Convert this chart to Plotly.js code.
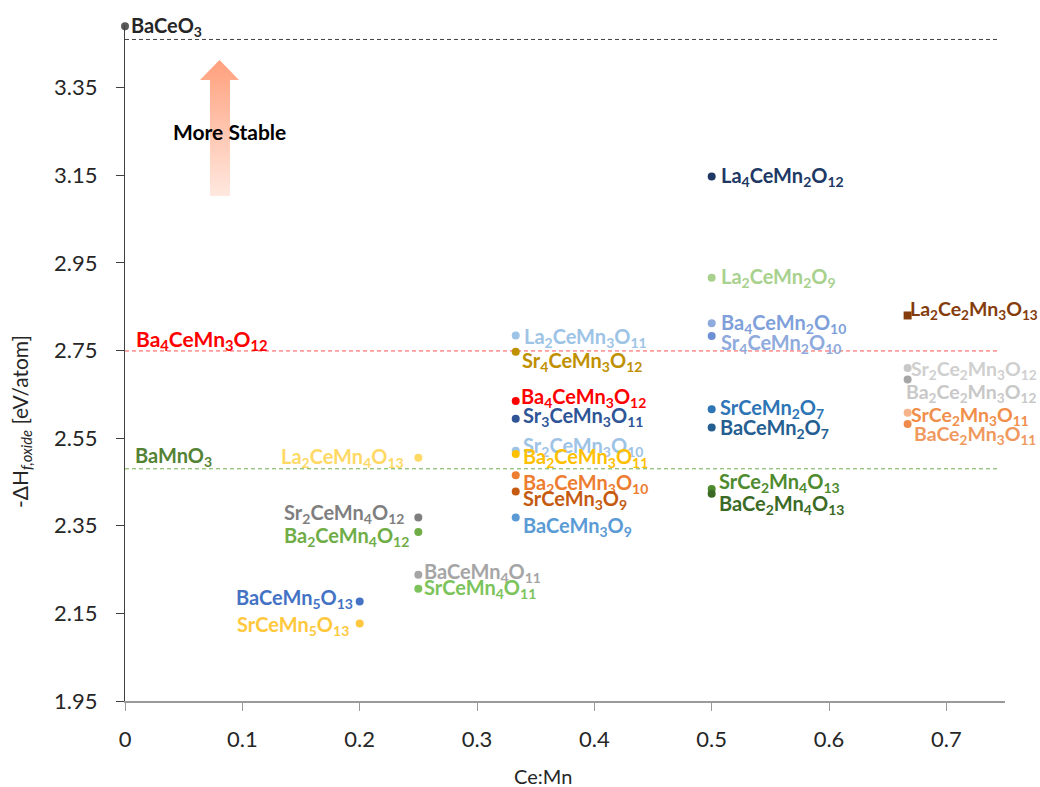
<!DOCTYPE html>
<html>
<head>
<meta charset="utf-8">
<script src="https://cdn.plot.ly/plotly-3.0.1.min.js"></script>
<style>html,body{margin:0;padding:0;background:#fff;}#chart{width:1040px;height:787px;}</style>
</head>
<body>
<div id="chart"></div>
<script>
// ---- data ----
const compounds = ['BaCeO3','La2CeMn4O13','Sr2CeMn4O12','Ba2CeMn4O12','BaCeMn4O11','SrCeMn4O11',
  'BaCeMn5O13','SrCeMn5O13','La2CeMn3O11','Sr4CeMn3O12','Ba4CeMn3O12','Sr3CeMn3O11','Sr2CeMn3O10',
  'Ba2CeMn3O11','Ba2CeMn3O10','SrCeMn3O9','BaCeMn3O9','La4CeMn2O12','La2CeMn2O9','Ba4CeMn2O10',
  'Sr4CeMn2O10','SrCeMn2O7','BaCeMn2O7','SrCe2Mn4O13','BaCe2Mn4O13','La2Ce2Mn3O13','Sr2Ce2Mn3O12',
  'Ba2Ce2Mn3O12','SrCe2Mn3O11','BaCe2Mn3O11'];
const ceMn = [0,0.25,0.25,0.25,0.25,0.25,
  0.2,0.2,0.333,0.333,0.333,0.333,0.333,
  0.333,0.333,0.333,0.333,0.5,0.5,0.5,
  0.5,0.5,0.5,0.5,0.5,0.667,0.667,
  0.667,0.667,0.667];
const dHf = [3.49,2.505,2.369,2.336,2.238,2.206,
  2.177,2.127,2.784,2.747,2.635,2.594,2.521,
  2.514,2.465,2.428,2.369,3.147,2.916,2.812,
  2.783,2.616,2.574,2.434,2.423,2.830,2.710,
  2.684,2.608,2.582];
const markerColors = ['#595959','#FFD966','#7F7F7F','#70AD47','#A5A5A5','#7DC35B',
  '#4472C4','#FFC83D','#9DC3E6','#BF9000','#FF0000','#2F5597','#9DC3E6',
  '#FFC000','#ED7D31','#C55A11','#5B9BD5','#203864','#A9D18E','#8FAADC',
  '#6D8FD3','#2E75B6','#255E91','#4E8A2E','#3B6A26','#843C0C','#C8C8C8',
  '#A6A6A6','#F5B48A','#EE8A4A'];
const labelColors = ['#262626','#FFD966','#7F7F7F','#70AD47','#A5A5A5','#7DC35B',
  '#4472C4','#FFC83D','#9DC3E6','#BF9000','#FF0000','#2F5597','#9DC3E6',
  '#FFC000','#ED7D31','#C55A11','#5B9BD5','#203864','#A9D18E','#7F9FDA',
  '#8FAADC','#2E75B6','#255E91','#4E8A2E','#3B6A26','#843C0C','#CFCFCF',
  '#C8C8C8','#F08E4A','#F0995E'];
const markerSymbols = compounds.map(c => c === 'La2Ce2Mn3O13' ? 'square' : 'circle');

// reference (dashed) lines
const refNames = ['BaCeO3','Ba4CeMn3O12','BaMnO3'];
const refValues = [3.46, 2.749, 2.48];
const refColors = ['#404040','#FF5050','#70AD47'];
const refLabelColors = [null,'#FF0000','#548235'];

// tick labels
const xTicks = [0,0.1,0.2,0.3,0.4,0.5,0.6,0.7];
const yTicks = [1.95,2.15,2.35,2.55,2.75,2.95,3.15,3.35];

// ---- label placement (pixels) ----
const labelSide = ['r','l','l','l','r','r','l','l','r','r','r','r','r','r','r','r','r','r','r','r',
  'r','r','r','r','r','r','r','r','r','r'];
const labelDx = [4,-12,-12,-7,4,4,-5,-9,6,4,3,5,5,5,5,5,5,7,7,7,7,6,6,5,5,0,1,-4,1,4];
const labelDy = [0,0,4,-5,2,0,3,-2,-2,-10,3,2,4,-4,-8,-8,-9,0,0,0,-7,1,-1,6,-11,5,-2,-14,-3,-11];

const fmt = s => s.replace(/(\d+)/g, '<sub>$1</sub>');
const FONT = 'Lato, "Open Sans", sans-serif';
const LABEL_SIZE = 20;

const traces = [];
const xEnd = 0.744;
refValues.forEach((v, i) => {
  traces.push({x:[0,xEnd], y:[v,v], mode:'lines', line:{color:refColors[i], width:1, dash:'4px,3px'},
    hoverinfo:'skip', showlegend:false});
});
traces.push({
  x: ceMn, y: dHf, mode:'markers', type:'scatter', cliponaxis:false,
  marker:{color:markerColors, size:8, symbol:markerSymbols, line:{width:0}},
  hoverinfo:'skip', showlegend:false
});

const annotations = compounds.map((c, i) => ({
  x: ceMn[i], y: dHf[i], xref:'x', yref:'y', text: fmt(c), showarrow:false,
  xanchor: labelSide[i] === 'r' ? 'left' : 'right', yanchor:'middle',
  xshift: labelDx[i], yshift: labelDy[i],
  font:{family:FONT, size:(ceMn[i] > 0.6 ? 19.5 : LABEL_SIZE), color:labelColors[i], weight:700}
}));
// reference line labels
annotations.push({x:0, y:refValues[1], xref:'x', yref:'y', text:fmt(refNames[1]), showarrow:false,
  xanchor:'left', yanchor:'middle', xshift:9, yshift:11, font:{family:FONT, size:21, color:refLabelColors[1], weight:700}});
annotations.push({x:0, y:refValues[2], xref:'x', yref:'y', text:fmt(refNames[2]), showarrow:false,
  xanchor:'left', yanchor:'middle', xshift:8, yshift:12, font:{family:FONT, size:LABEL_SIZE, color:refLabelColors[2], weight:700}});
// "More Stable"
annotations.push({x:(229-125)/880, y:(701-131.7)/676, xref:'paper', yref:'paper', text:'More Stable', showarrow:false,
  xanchor:'center', yanchor:'middle', font:{family:FONT, size:21, color:'#000000', weight:700}});
// axis titles
annotations.push({x:(21-125)/880, y:(701-422)/676, xref:'paper', yref:'paper', textangle:-90,
  text:'-ΔH<sub><i>f,oxide</i></sub> [eV/atom]', showarrow:false, xanchor:'center', yanchor:'middle',
  font:{family:FONT, size:21, color:'#262626'}});
annotations.push({x:(543-125)/880, y:(701-776)/676, xref:'paper', yref:'paper',
  text:'Ce:Mn', showarrow:false, xanchor:'center', yanchor:'middle',
  font:{family:FONT, size:20, color:'#262626'}});

// gradient arrow as inline SVG image
const arrowSvg = '<svg xmlns="http://www.w3.org/2000/svg" width="40" height="136" viewBox="0 0 40 136">' +
  '<defs><linearGradient id="g" x1="0" y1="0" x2="0" y2="1">' +
  '<stop offset="0" stop-color="#FFA07C"/><stop offset="1" stop-color="#FFE8DF"/></linearGradient></defs>' +
  '<path d="M19.5 0 L39 20 L30 20 L30 136 L10 136 L10 20 L0 20 Z" fill="url(#g)"/></svg>';
const images = [{
  source: 'data:image/svg+xml;charset=utf-8,' + encodeURIComponent(arrowSvg),
  xref:'paper', yref:'paper', x:(200-125)/880, y:(701-60)/676, sizex:40/880, sizey:136/676,
  xanchor:'left', yanchor:'top', sizing:'stretch', layer:'below'
}];

const layout = {
  width:1040, height:787,
  margin:{l:125, r:35, t:25, b:86},
  paper_bgcolor:'#ffffff', plot_bgcolor:'#ffffff',
  font:{family:FONT, color:'#262626'},
  xaxis:{range:[0,0.75], tickvals:xTicks, ticktext:xTicks.map(String), showgrid:false, zeroline:false,
    showline:true, linecolor:'#9A9A9A', linewidth:1.5, ticks:'outside', ticklen:8, tickcolor:'#9A9A9A',
    tickfont:{family:FONT, size:22, color:'#262626'}, ticklabelstandoff:10},
  yaxis:{range:[1.95,3.493], tickvals:yTicks, ticktext:yTicks.map(v => v.toFixed(2)), showgrid:false, zeroline:false,
    showline:true, linecolor:'#404040', linewidth:1, ticks:'outside', ticklen:8, tickcolor:'#404040',
    tickfont:{family:FONT, size:22, color:'#262626'}, ticklabelstandoff:14},
  annotations: annotations,
  images: images,
  showlegend:false
};

Plotly.newPlot('chart', traces, layout, {staticPlot:true, displayModeBar:false});
</script>
</body>
</html>
